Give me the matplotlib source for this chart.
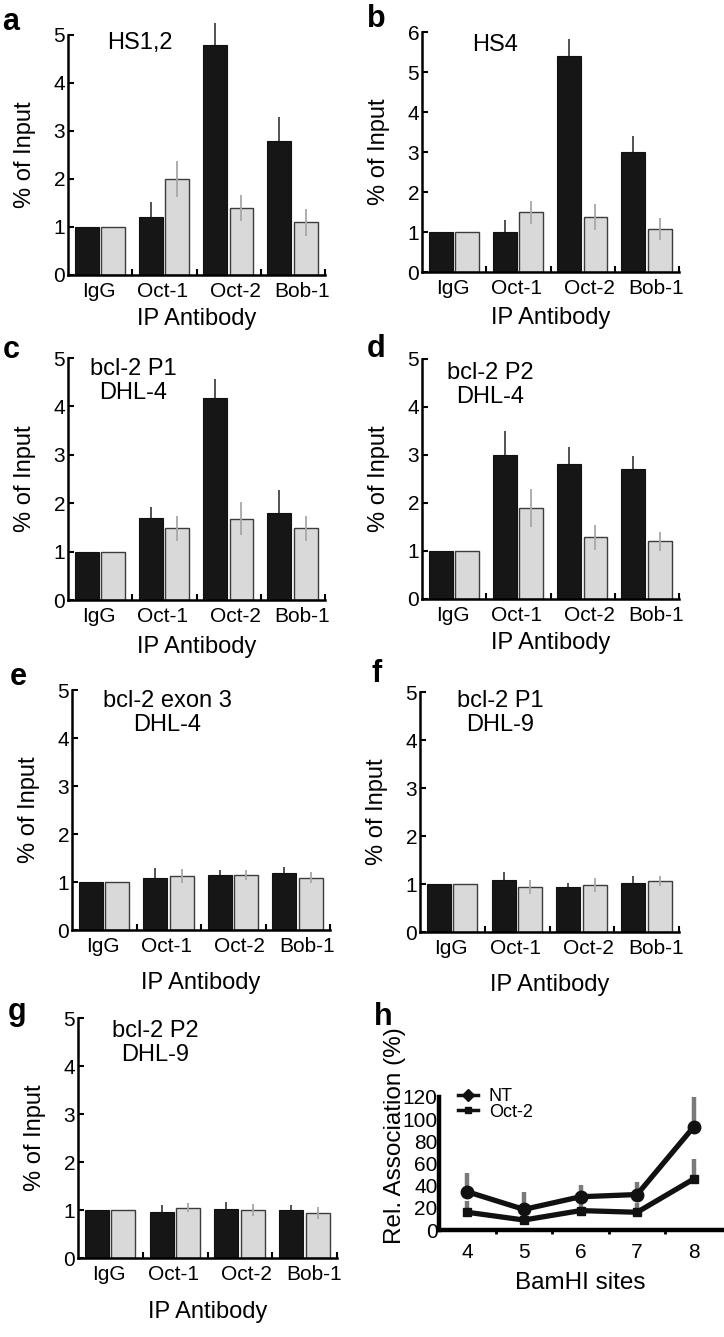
import numpy as np
import matplotlib
matplotlib.use('Agg')
from matplotlib import pyplot as plt
from matplotlib.lines import Line2D

plt.rcParams['font.family'] = ['Liberation Sans', 'DejaVu Sans']

W, H = 724, 1337

antibodies = ['IgG', 'Oct-1', 'Oct-2', 'Bob-1']

# black bars = first series, grey bars = second series (upper error only on black)
a_black = [1.0, 1.21, 4.79, 2.79]
a_black_err = [0, 0.31, 0.45, 0.50]
a_gray = [1.0, 2.0, 1.40, 1.10]
a_gray_err = [0, 0.38, 0.27, 0.28]

b_black = [1.0, 1.0, 5.39, 2.99]
b_black_err = [0, 0.30, 0.44, 0.40]
b_gray = [1.0, 1.49, 1.38, 1.08]
b_gray_err = [0, 0.28, 0.32, 0.27]

c_black = [1.0, 1.69, 4.17, 1.79]
c_black_err = [0, 0.24, 0.40, 0.48]
c_gray = [1.0, 1.48, 1.68, 1.48]
c_gray_err = [0, 0.26, 0.34, 0.26]

d_black = [1.0, 3.0, 2.81, 2.71]
d_black_err = [0, 0.49, 0.36, 0.26]
d_gray = [1.0, 1.90, 1.29, 1.20]
d_gray_err = [0, 0.40, 0.26, 0.20]

e_black = [1.0, 1.09, 1.14, 1.19]
e_black_err = [0, 0.20, 0.12, 0.13]
e_gray = [1.0, 1.12, 1.15, 1.09]
e_gray_err = [0, 0.15, 0.11, 0.12]

f_black = [1.0, 1.09, 0.93, 1.03]
f_black_err = [0, 0.17, 0.09, 0.13]
f_gray = [1.0, 0.94, 0.98, 1.06]
f_gray_err = [0, 0.14, 0.15, 0.10]

g_black = [1.0, 0.96, 1.03, 1.01]
g_black_err = [0, 0.14, 0.13, 0.09]
g_gray = [1.0, 1.05, 1.0, 0.94]
g_gray_err = [0, 0.10, 0.13, 0.13]

# panel h
sites = [4, 5, 6, 7, 8]
nt = [34.5, 18.6, 30, 32, 93]
nt_err = [17, 16, 10.5, 11.5, 27]
oct2 = [16, 9, 17.5, 16, 46]
oct2_err = [10, 8, 8, 8, 18]

fig = plt.figure(figsize=(W / 100, H / 100), dpi=100)


def rect(x0, x1, ytop, ybot):
	return [x0 / W, 1 - ybot / H, (x1 - x0) / W, (ybot - ytop) / H]


def bar_panel(r, letter, lpos, title, tpos, black, black_err, gray, gray_err, ymax, xlab_off):
	ax = fig.add_axes(rect(*r))
	x = np.arange(4)
	black = np.array(black)
	gray = np.array(gray)
	ax.bar(x + 0.29, black, 0.37, color='#161616', edgecolor='#111111', lw=0.8, zorder=2)
	ax.bar(x + 0.70, gray, 0.37, color='#d9d9d9', edgecolor='#3c3c3c', lw=1.0, zorder=2)
	ax.vlines(x + 0.29, black, black + np.array(black_err), color='#444444', lw=1.3, zorder=3, clip_on=False)
	ax.vlines(x + 0.70, gray - np.array(gray_err), gray + np.array(gray_err), color='#a8a8a8', lw=1.3, zorder=3, clip_on=False)
	ax.set_xlim(0, 4)
	ax.set_ylim(0, ymax)
	for s in ['top', 'right']:
		ax.spines[s].set_visible(False)
	for s in ['left', 'bottom']:
		ax.spines[s].set_linewidth(1.8)
	ax.set_yticks(range(ymax + 1))
	ax.tick_params(axis='y', direction='in', length=4, width=1.5, pad=2, labelsize=15)
	ax.set_xticks([0.48, 1.47, 2.6, 3.65])
	ax.set_xticklabels(antibodies)
	ax.tick_params(axis='x', length=0, pad=5, labelsize=15)
	ax.set_xticks([1, 2, 3, 4], minor=True)
	ax.tick_params(axis='x', which='minor', direction='in', length=4, width=1.5)
	w = r[1] - r[0]
	h = r[3] - r[2]
	ax.set_ylabel('% of Input', fontsize=17, va='center')
	ax.yaxis.set_label_coords(-43 / w, 0.5)
	ax.set_xlabel('IP Antibody', fontsize=17, va='center')
	ax.xaxis.set_label_coords(0.5, -xlab_off / h)
	fig.text(tpos[0] / W, 1 - tpos[1] / H, title, ha='center', va='center', fontsize=17, linespacing=1.1)
	fig.text(lpos[0] / W, 1 - lpos[1] / H, letter, ha='left', va='baseline', fontsize=22, fontweight='bold')
	return ax


bar_panel((68, 325, 35, 275), 'a', (2, 30), 'HS1,2', (140, 43), a_black, a_black_err, a_gray, a_gray_err, 5, 44)
bar_panel((422, 679, 32, 272), 'b', (367, 27), 'HS4', (495, 45), b_black, b_black_err, b_gray, b_gray_err, 6, 46)
bar_panel((68, 325, 358, 600), 'c', (3, 358), 'bcl-2 P1\nDHL-4', (133, 381), c_black, c_black_err, c_gray, c_gray_err, 5, 47)
bar_panel((422, 679, 359, 599), 'd', (367, 357), 'bcl-2 P2\nDHL-4', (490, 385), d_black, d_black_err, d_gray, d_gray_err, 5, 44)
bar_panel((72, 330, 690, 930), 'e', (10, 685), 'bcl-2 exon 3\nDHL-4', (167, 713), e_black, e_black_err, e_gray, e_gray_err, 5, 53)
bar_panel((420, 679, 692, 932), 'f', (372, 682), 'bcl-2 P1\nDHL-9', (500, 713), f_black, f_black_err, f_gray, f_gray_err, 5, 53)
bar_panel((78, 337, 1018, 1258), 'g', (8, 1020), 'bcl-2 P2\nDHL-9', (155, 1043), g_black, g_black_err, g_gray, g_gray_err, 5, 54)

# panel h
ax = fig.add_axes(rect(439, 722, 1097, 1230))
nt = np.array(nt)
oct2 = np.array(oct2)
ax.vlines(sites, nt, nt + np.array(nt_err), color='#7a7a7a', lw=3.2, zorder=1, clip_on=False)
ax.vlines(sites, oct2, oct2 + np.array(oct2_err), color='#7a7a7a', lw=3.2, zorder=1, clip_on=False)
ax.plot(sites, nt, color='#111111', lw=3.8, marker='o', ms=9, zorder=3, clip_on=False)
ax.plot(sites, oct2, color='#111111', lw=3.8, marker='s', ms=6, zorder=3, clip_on=False)
ax.set_xlim(3.5, 8.5)
ax.set_ylim(0, 120)
for s in ['top', 'right']:
	ax.spines[s].set_visible(False)
for s in ['left', 'bottom']:
	ax.spines[s].set_linewidth(3.2)
ax.set_xticks(sites)
ax.set_yticks(range(0, 121, 20))
ax.tick_params(axis='x', length=0, pad=9, labelsize=15)
ax.tick_params(axis='y', length=0, pad=1, labelsize=15)
ax.set_xticks([4.5, 5.5, 6.5, 7.5], minor=True)
ax.tick_params(axis='x', which='minor', direction='out', length=3, width=2)
ax.set_xlabel('BamHI sites', fontsize=17.5, va='center')
ax.xaxis.set_label_coords(0.5, -53 / 133)
ax.set_ylabel('Rel. Association (%)', fontsize=17.5, va='center')
ax.yaxis.set_label_coords(-44 / 283, (1230 - 1136) / 133)
handles = [Line2D([], [], color='#111111', lw=2.5, marker='D', ms=6),
		   Line2D([], [], color='#111111', lw=2.5, marker='s', ms=5)]
ax.legend(handles, ['NT', 'Oct-2'], loc='upper left', bbox_to_anchor=(0.067, 1.065), frameon=False,
		  fontsize=13, handlelength=1.1, handletextpad=0.6, labelspacing=-0.1, borderpad=0, borderaxespad=0)
fig.text(374 / W, 1 - 1025 / H, 'h', ha='left', va='baseline', fontsize=22, fontweight='bold')

fig.savefig('out.png', dpi=100)
